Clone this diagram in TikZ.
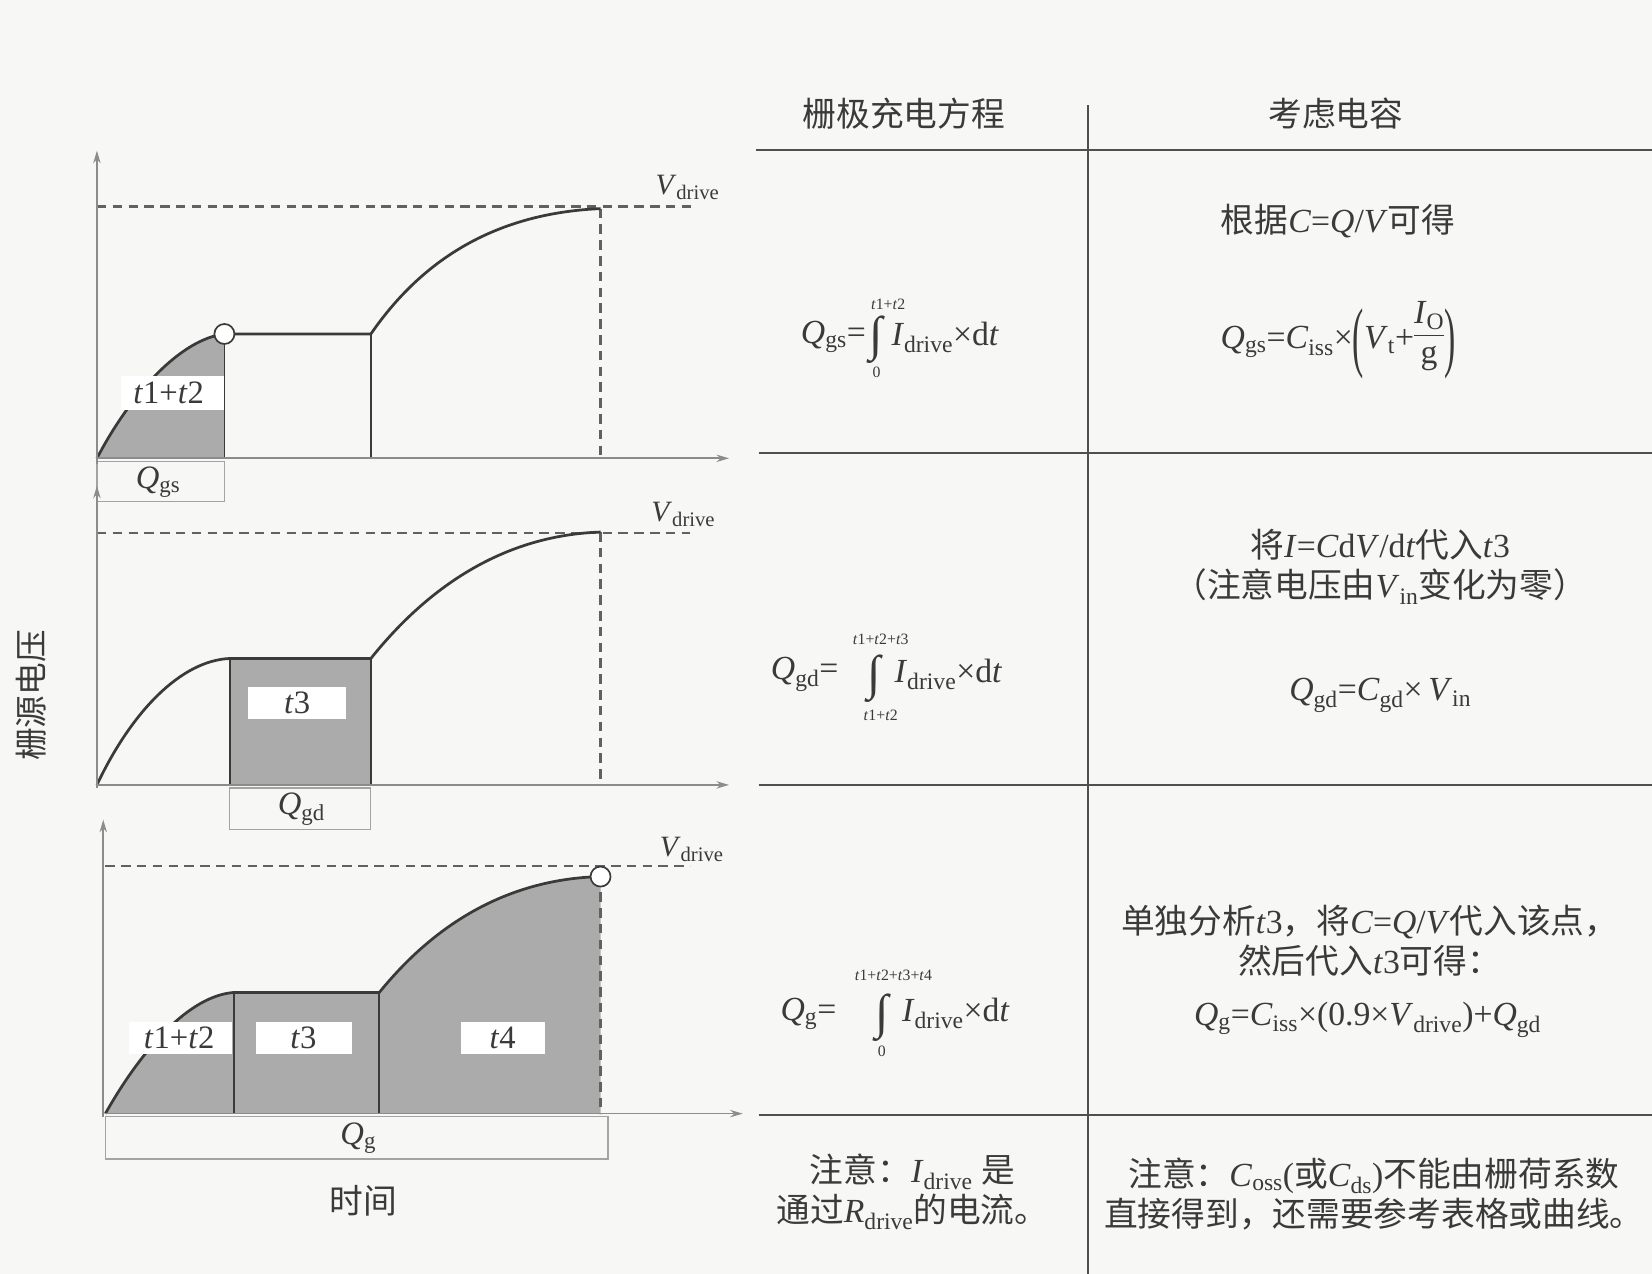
\documentclass[tikz,border=0pt]{standalone}
\usepackage{fontspec}
\setmainfont{Liberation Serif}
\newfontfamily\cjk{Noto Sans CJK SC}
\usetikzlibrary{arrows.meta}
\definecolor{ink}{HTML}{3A3A3A}
\definecolor{paper}{HTML}{F7F7F5}
\definecolor{shade}{HTML}{ABABAB}
\definecolor{axisc}{HTML}{8C8C8C}
\definecolor{rule}{HTML}{505050}
\newcommand\vv[1]{\textit{#1}}
\newcommand\sbs[1]{\textsubscript{#1}}
\newcommand\zh[1]{{\cjk #1}}
\newcommand\lpar{\raisebox{-13pt}{\scalebox{1}[2.3]{(}}}
\newcommand\rpar{\raisebox{-13pt}{\scalebox{1}[2.3]{)}}}
\newcommand\fracx[2]{\raisebox{-14pt}{\begin{tabular}[b]{@{}c@{}}\rule{0pt}{23pt}#1\rule[-5pt]{0pt}{5pt}\\[0pt]\hline\rule{0pt}{24pt}#2\end{tabular}}}
\tikzset{
  txt/.style={font=\fontsize{32}{38}\selectfont, text=ink, inner sep=0pt, align=center},
  ptxt/.style={font=\fontsize{31}{36}\selectfont, text=ink, inner sep=0pt},
  ltxt/.style={font=\fontsize{28}{34}\selectfont, text=ink, inner sep=0pt},
  inttxt/.style={font=\fontsize{46}{46}\selectfont, text=ink, inner sep=0pt},
  limtxt/.style={font=\fontsize{15}{16}\selectfont, text=ink, inner sep=1pt},
  axisline/.style={draw=axisc, line width=1.6pt, -{Stealth[length=12pt,width=7pt]}},
  curve/.style={draw=ink, line width=2.6pt},
  vline/.style={draw=ink, line width=1.6pt},
  dline/.style={draw=ink!80, line width=2pt, dash pattern=on 9pt off 6pt},
  lblbox/.style={fill=white, draw=none},
  qbox/.style={draw=axisc!80, line width=1.2pt},
  trule/.style={draw=rule, line width=2pt},
  pt/.style={circle, draw=ink, line width=1.6pt, fill=white, minimum size=19pt, inner sep=0pt}
}
\begin{document}
\begin{tikzpicture}[x=1pt,y=-1pt]
\path[fill=paper] (0,0) rectangle (1568,1209);
\useasboundingbox (0,0) rectangle (1568,1209);

% ---------- plot 1 ----------
\coordinate (o1) at (92,435);
\coordinate (a1) at (213,317);
\coordinate (b1) at (352,317);
\coordinate (e1) at (570,198);
\coordinate (f1) at (570,435);
\coordinate (ytop1) at (92,143);
\coordinate (xend1) at (692,435);
\coordinate (ds1) at (92,196);
\coordinate (de1) at (660,196);
\path[fill=shade] (o1) .. controls (125,372) and (172,322) .. (a1) -- (213,435) -- cycle;
\draw[dline] (ds1) -- (de1);
\draw[dline] (e1) -- (f1);
\draw[vline] (a1) -- (213,435);
\draw[vline] (b1) -- (352,435);
\draw[curve] (o1) .. controls (125,372) and (172,322) .. (a1) -- (b1) .. controls (405,240) and (478,202) .. (e1);
\fill[lblbox] (115,357) rectangle (213,389);
\node[ptxt] (lab11) at (160,373) {\vv{t}1+\vv{t}2};
\node[pt] (c1) at (a1) {};
\draw[qbox] (92,438) rectangle (213,476);
\node[ptxt] (q1) at (150,458) {\vv{Q}\sbs{gs}};
\draw[axisline] (92,440) -- (ytop1);
\draw[axisline] (o1) -- (xend1);
\node[ltxt, anchor=south west] (vd1) at (622,190) {\vv{V}\sbs{drive}};

% ---------- plot 2 ----------
\coordinate (o2) at (92,745);
\coordinate (a2) at (218,625);
\coordinate (b2) at (352,625);
\coordinate (e2) at (570,505);
\coordinate (f2) at (570,745);
\coordinate (ytop2) at (92,461);
\coordinate (xend2) at (692,745);
\coordinate (ds2) at (92,506);
\coordinate (de2) at (655,506);
\path[fill=shade] (a2) rectangle (352,745);
\draw[dline] (ds2) -- (de2);
\draw[dline] (e2) -- (f2);
\draw[vline] (a2) -- (218,745);
\draw[vline] (b2) -- (352,745);
\draw[curve] (o2) .. controls (125,675) and (172,627) .. (a2) -- (b2) .. controls (408,555) and (480,508) .. (e2);
\fill[lblbox] (235,652) rectangle (328,682);
\node[ptxt] (lab21) at (282,667) {\vv{t}3};
\draw[qbox] (218,748) rectangle (352,787);
\node[ptxt] (q2) at (286,768) {\vv{Q}\sbs{gd}};
\draw[axisline] (92,748) -- (ytop2);
\draw[axisline] (o2) -- (xend2);
\node[ltxt, anchor=south west] (vd2) at (618,500) {\vv{V}\sbs{drive}};

% ---------- plot 3 ----------
\coordinate (o3) at (100,1057);
\coordinate (a3) at (222,942);
\coordinate (b3) at (360,942);
\coordinate (e3) at (570,832);
\coordinate (f3) at (570,1057);
\coordinate (ytop3) at (98,778);
\coordinate (xend3) at (705,1057);
\coordinate (ds3) at (100,822);
\coordinate (de3) at (655,822);
\path[fill=shade] (o3) .. controls (135,995) and (180,945) .. (a3) -- (b3) .. controls (420,868) and (492,834) .. (e3) -- (f3) -- cycle;
\draw[dline] (ds3) -- (de3);
\draw[dline] (e3) -- (f3);
\draw[vline] (a3) -- (222,1057);
\draw[vline] (b3) -- (360,1057);
\draw[curve] (o3) .. controls (135,995) and (180,945) .. (a3) -- (b3) .. controls (420,868) and (492,834) .. (e3);
\fill[lblbox] (122,970) rectangle (220,1000);
\fill[lblbox] (243,970) rectangle (334,1000);
\fill[lblbox] (438,970) rectangle (517,1000);
\node[ptxt] (lab31) at (170,985) {\vv{t}1+\vv{t}2};
\node[ptxt] (lab32) at (288,985) {\vv{t}3};
\node[ptxt] (lab33) at (477,985) {\vv{t}4};
\node[pt] (c3) at (e3) {};
\draw[qbox] (100,1060) rectangle (577,1100);
\node[ptxt] (q3) at (340,1080) {\vv{Q}\sbs{g}};
\draw[axisline] (98,1060) -- (ytop3);
\draw[axisline] (o3) -- (xend3);
\node[ltxt, anchor=south west] (vd3) at (626,818) {\vv{V}\sbs{drive}};

\node[txt] (tlabel) at (345,1140) {\zh{时间}};
\node[ptxt, rotate=90] (vlabel) at (30,660) {\zh{栅源电压}};

% ---------- table ----------
\coordinate (tv1) at (1033,100);
\coordinate (tv2) at (1033,1209);
\draw[trule] (tv1) -- (tv2);
\coordinate (h1a) at (718,142); \coordinate (h1b) at (1568,142);
\coordinate (h2a) at (720,430); \coordinate (h2b) at (1568,430);
\coordinate (h3a) at (720,745); \coordinate (h3b) at (1568,745);
\coordinate (h4a) at (720,1058); \coordinate (h4b) at (1568,1058);
\draw[trule] (h1a) -- (h1b);
\draw[trule] (h2a) -- (h2b);
\draw[trule] (h3a) -- (h3b);
\draw[trule] (h4a) -- (h4b);

\node[txt] (hd1) at (858,108) {\zh{栅极充电方程}};
\node[txt] (hd2) at (1268,108) {\zh{考虑电容}};

% row 1
\node[txt] (r1a) at (1270,210) {\zh{根据}\vv{C}=\vv{Q}/\vv{V}\zh{可得}};
\node[txt, anchor=east] (r1q) at (822,320) {\vv{Q}\sbs{gs}=};
\node[inttxt] (r1i) at (832,322) {∫};
\node[limtxt] (r1u) at (843,289) {\vv{t}1+\vv{t}2};
\node[limtxt] (r1d) at (832,353) {0};
\node[txt, anchor=west] (r1e) at (846,320) {\vv{I}\sbs{drive}×d\vv{t}};
\node[txt] (r1r) at (1270,320) {\vv{Q}\sbs{gs}=\vv{C}\sbs{iss}×\lpar\vv{V}\sbs{t}+\fracx{\vv{I}\sbs{O}}{g}\rpar};

% row 2
\node[txt] (r2a) at (1310,538) {\zh{将}\vv{I}=\vv{C}d\vv{V}/d\vv{t}\zh{代入}\vv{t}3\\\zh{（注意电压由}\vv{V}\sbs{in}\zh{变化为零）}};
\node[txt, anchor=east] (r2q) at (796,640) {\vv{Q}\sbs{gd}=};
\node[inttxt] (r2i) at (830,644) {∫};
\node[limtxt] (r2u) at (836,607) {\vv{t}1+\vv{t}2+\vv{t}3};
\node[limtxt] (r2d) at (836,679) {\vv{t}1+\vv{t}2};
\node[txt, anchor=west] (r2e) at (849,640) {\vv{I}\sbs{drive}×d\vv{t}};
\node[txt] (r2r) at (1310,660) {\vv{Q}\sbs{gd}=\vv{C}\sbs{gd}×\,\vv{V}\sbs{in}};

% row 3
\node[txt] (r3a) at (1300,893) {\zh{单独分析}\vv{t}3\zh{，将}\vv{C}=\vv{Q}/\vv{V}\zh{代入该点，}\\\zh{然后代入}\vv{t}3\zh{可得：}};
\node[txt, anchor=east] (r3q) at (794,962) {\vv{Q}\sbs{g}=};
\node[inttxt] (r3i) at (837,966) {∫};
\node[limtxt] (r3u) at (848,926) {\vv{t}1+\vv{t}2+\vv{t}3+\vv{t}4};
\node[limtxt] (r3d) at (837,998) {0};
\node[txt, anchor=west] (r3e) at (856,962) {\vv{I}\sbs{drive}×d\vv{t}};
\node[txt] (r3r) at (1298,968) {\vv{Q}\sbs{g}=\vv{C}\sbs{iss}×(0.9×\vv{V}\sbs{drive})+\vv{Q}\sbs{gd}};

% row 4
\node[txt] (r4l) at (866,1131) {\zh{注意：}\vv{I}\sbs{drive} \zh{是}\\\zh{通过}\vv{R}\sbs{drive}\zh{的电流。}};
\node[txt] (r4r) at (1304,1133) {\zh{注意：}\vv{C}\sbs{oss}(\zh{或}\vv{C}\sbs{ds})\zh{不能由栅荷系数}\\\zh{直接得到，还需要参考表格或曲线。}};
\end{tikzpicture}
\end{document}
